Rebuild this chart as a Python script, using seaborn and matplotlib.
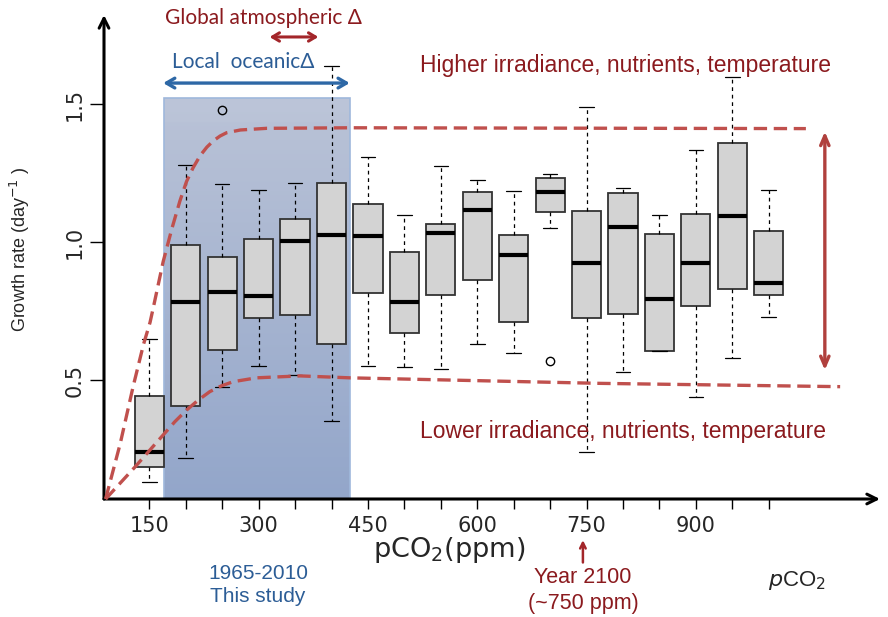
import numpy as np
import pandas as pd
import matplotlib.pyplot as plt
from matplotlib.colors import to_rgb
import seaborn as sns

# Box summaries (growth rate, day^-1)
pco2 = [150, 200, 250, 300, 350, 400, 450, 500, 550,
        600, 650, 700, 750, 800, 850, 900, 950, 1000]
whisker_lo = [0.130, 0.217, 0.477, 0.552, 0.518, 0.351, 0.553, 0.548, 0.541,
              0.630, 0.600, 1.051, 0.241, 0.531, 0.606, 0.438, 0.582, 0.730]
q1 = [0.185, 0.408, 0.611, 0.724, 0.737, 0.630, 0.815, 0.671, 0.809,
      0.863, 0.710, 1.110, 0.726, 0.740, 0.606, 0.770, 0.831, 0.810]
median = [0.239, 0.785, 0.820, 0.807, 1.005, 1.025, 1.023, 0.784, 1.035,
          1.118, 0.955, 1.181, 0.924, 1.055, 0.795, 0.925, 1.095, 0.851]
q3 = [0.444, 0.990, 0.948, 1.011, 1.084, 1.215, 1.140, 0.964, 1.065,
      1.182, 1.025, 1.234, 1.112, 1.179, 1.031, 1.104, 1.359, 1.040]
whisker_hi = [0.650, 1.280, 1.210, 1.190, 1.214, 1.639, 1.310, 1.099, 1.278,
              1.226, 1.186, 1.249, 1.491, 1.198, 1.100, 1.333, 1.600, 1.191]
outlier_hi = {250: 1.479}
outlier_lo = {700: 0.570}

# envelope curves (upper / lower)
upper_x = [90, 110, 128, 142, 151, 156, 169, 181, 192, 201, 210, 220, 229,
           238, 247, 256, 275, 311, 426, 1051]
upper_y = [0.07, 0.27, 0.48, 0.63, 0.71, 0.77, 0.93, 1.05, 1.15, 1.22, 1.27,
           1.315, 1.345, 1.368, 1.385, 1.397, 1.407, 1.413, 1.415, 1.412]
lower_x = [90, 130, 150, 169, 185, 201, 217, 233, 249, 265, 297, 357, 425,
           768, 1098]
lower_y = [0.07, 0.185, 0.245, 0.302, 0.350, 0.392, 0.428, 0.459, 0.480,
           0.495, 0.509, 0.516, 0.509, 0.489, 0.477]

study_span = [170, 425]
study_top = 1.522
xtick_labels = [150, 300, 450, 600, 750, 900]
ytick_vals = [0.5, 1.0, 1.5]
xlim = (87.8, 1152.7)
ylim = (0.07, 1.8236)

# rebuild samples whose quartiles / whiskers reproduce the summaries
rows = []
for i, x in enumerate(pco2):
    pts = [whisker_lo[i], q1[i], q1[i], median[i], median[i], median[i],
           q3[i], q3[i], whisker_hi[i]]
    if x in outlier_hi:
        pts = pts[:7] + [whisker_hi[i], outlier_hi[x]]
    if x in outlier_lo:
        pts = [outlier_lo[x], whisker_lo[i]] + pts[2:]
    rows += [(x, v) for v in pts]
df = pd.DataFrame(rows, columns=["pco2", "growth"])

sns.set_style("white")
plt.rcParams["font.family"] = ["Liberation Sans", "DejaVu Sans"]

DARKRED = "#8b1a1e"
BLUE = "#2c5d96"
CURVE = "#c0504d"

fig = plt.figure(figsize=(8.88, 6.17), dpi=100)
ax = fig.add_axes([104 / 888, 118 / 617, 776 / 888, 484 / 617])

# shaded study window with a vertical gradient
n = 200
t = np.linspace(0, 1, n)[:, None]
top = np.array(to_rgb("#bac3d7"))
bot = np.array(to_rgb("#93a6ca"))
grad = top * (1 - t) + bot * t
band = t[:, 0] < 0.06
grad[band] = grad[band] * 0.85 + 0.15 * np.array(to_rgb("#c8d0e0"))
ax.imshow(grad[:, None, :], extent=[study_span[0], study_span[1], ylim[0], study_top],
          aspect="auto", origin="upper", zorder=0)
ax.add_patch(plt.Rectangle((study_span[0], ylim[0]), study_span[1] - study_span[0],
                           study_top - ylim[0], fill=False, edgecolor="#9fb8dc",
                           lw=1.2, zorder=0.5))

sns.boxplot(data=df, x="pco2", y="growth", native_scale=True, width=0.8,
            color="#d3d3d3", saturation=1, linecolor="#333333", linewidth=1.3,
            fliersize=6,
            flierprops=dict(marker="o", markerfacecolor="none",
                            markeredgecolor="black", markeredgewidth=1),
            medianprops=dict(color="black", linewidth=3),
            whiskerprops=dict(color="black", linewidth=0.9, linestyle=(0, (3, 3))),
            capprops=dict(color="black", linewidth=0.9),
            ax=ax)

# envelope curves
ax.plot(upper_x, upper_y, color=CURVE, lw=2.4, dashes=(4, 2), zorder=4,
        clip_on=False, solid_joinstyle="round")
ax.plot(lower_x, lower_y, color=CURVE, lw=2.4, dashes=(4, 2), zorder=4,
        clip_on=False, solid_joinstyle="round")

# axes with arrow heads
for end in [(1, 0), (0, 1)]:
    ax.annotate("", xy=end, xytext=(0, 0), xycoords="axes fraction",
                arrowprops=dict(arrowstyle="->,head_length=0.7,head_width=0.35",
                                lw=2.2, color="black", shrinkA=0, shrinkB=0),
                annotation_clip=False)
for s in ax.spines.values():
    s.set_visible(False)

ax.set_xlim(*xlim)
ax.set_ylim(*ylim)
ax.set_xticks(xtick_labels)
ax.set_xticklabels([str(v) for v in xtick_labels], family="DejaVu Sans")
ax.set_xticks(pco2, minor=True)
ax.set_yticks(ytick_vals)
ax.set_yticklabels([f"{v:.1f}" for v in ytick_vals], rotation=90, va="center",
                   family="DejaVu Sans")
ax.tick_params(axis="x", which="both", bottom=True, direction="out", length=7,
               width=1, color="black", labelsize=15, pad=5)
ax.tick_params(axis="y", left=True, direction="out", length=10, width=1,
               color="black", labelsize=15, pad=4)
ax.set_xlabel("")
ax.set_ylabel("Growth rate (day$^{-1}$ )", fontsize=13)
ax.yaxis.set_label_coords(-0.093, 0.516)

# annotations
ax.text(562, -0.115, "pCO$_2$(ppm)", fontsize=19.5, ha="center", va="center",
        family="DejaVu Sans", clip_on=False)
ax.text(803, 1.642, "Higher irradiance, nutrients, temperature", fontsize=16.5,
        color=DARKRED, ha="center", va="center")
ax.text(800, 0.313, "Lower irradiance, nutrients, temperature", fontsize=16.5,
        color=DARKRED, ha="center", va="center")
ax.text(306, 1.8127, "Global atmospheric \u0394", fontsize=15, color=DARKRED,
        ha="center", va="center", family=["Lato", "DejaVu Sans"], clip_on=False)
ax.annotate("", xy=(382, 1.744), xytext=(315, 1.744),
            arrowprops=dict(arrowstyle="<->,head_length=0.5,head_width=0.3",
                            lw=2.2, color="#a3262a", shrinkA=0, shrinkB=0))
ax.text(279, 1.653, "Local  oceanic\u0394", fontsize=15, color=BLUE,
        ha="center", va="center", family=["Lato", "DejaVu Sans"])
ax.annotate("", xy=(425, 1.577), xytext=(169, 1.577),
            arrowprops=dict(arrowstyle="<->,head_length=0.6,head_width=0.35",
                            lw=2.4, color="#2e68a6", shrinkA=0, shrinkB=0))
ax.annotate("", xy=(1077, 1.401), xytext=(1077, 0.537),
            arrowprops=dict(arrowstyle="<->,head_length=0.7,head_width=0.3",
                            lw=2.4, color="#b0403d", shrinkA=0, shrinkB=0))
ax.text(299, -0.242, "1965-2010\nThis study", fontsize=15, color=BLUE,
        ha="center", va="center", linespacing=1.3, clip_on=False)
ax.text(745, -0.262, "Year 2100\n(~750 ppm)", fontsize=15.5, color=DARKRED,
        ha="center", va="center", linespacing=1.3, clip_on=False)
ax.annotate("", xy=(745, -0.079), xytext=(745, -0.16),
            arrowprops=dict(arrowstyle="->,head_length=0.4,head_width=0.2",
                            lw=1.8, color="#a3262a", shrinkA=0, shrinkB=0),
            annotation_clip=False)
ax.text(1039, -0.224, "$p$CO$_2$", fontsize=16, ha="center", va="center",
        clip_on=False)

fig.savefig("out.png", dpi=100, facecolor="white")
